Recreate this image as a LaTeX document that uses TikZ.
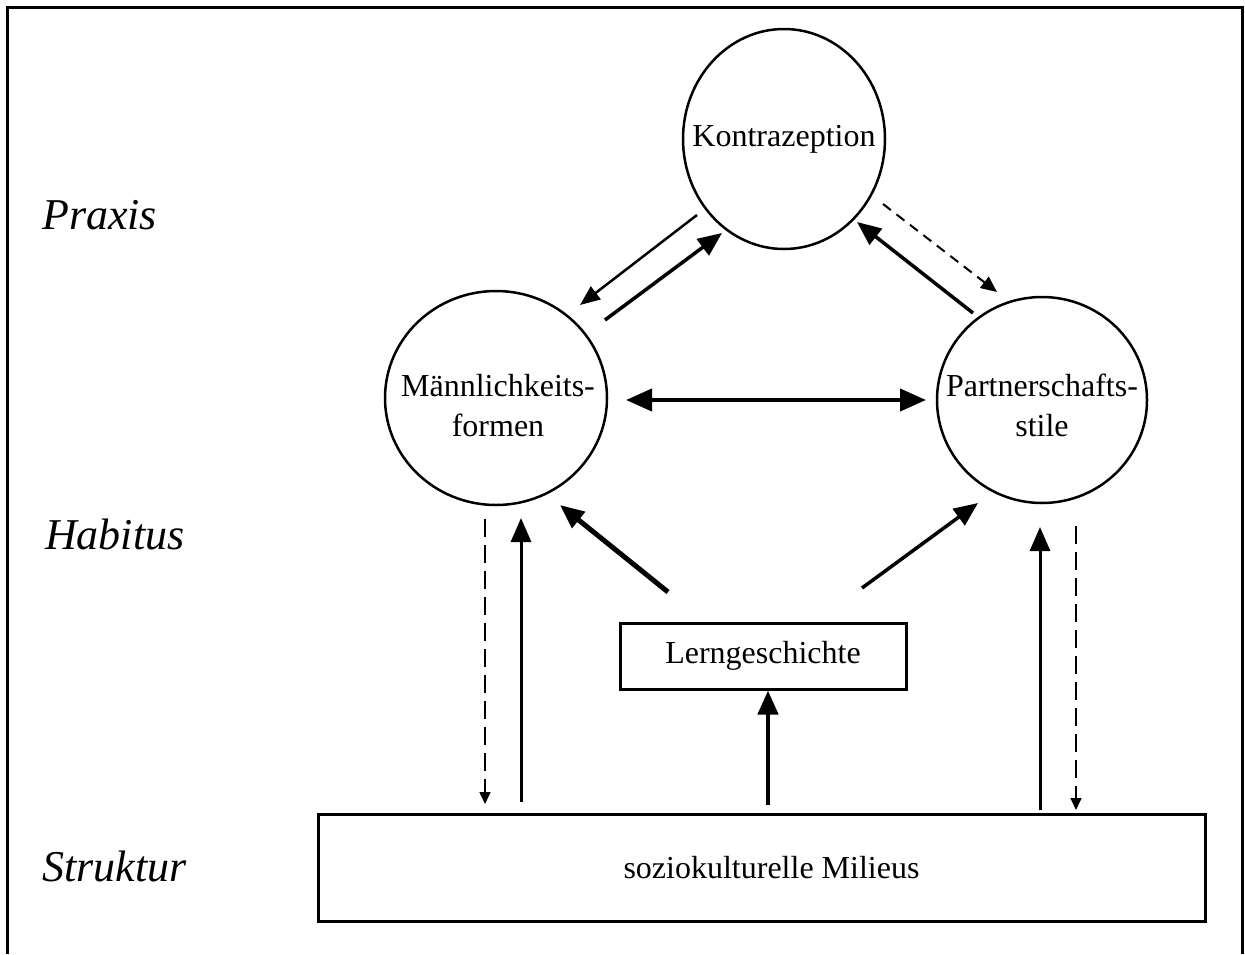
\documentclass[tikz,border=0pt]{standalone}
\usepackage{fontspec}
\setmainfont{Liberation Serif}
\usetikzlibrary{arrows.meta,shapes.geometric}
\begin{document}
\begin{tikzpicture}[x=1pt,y=-1pt,
  sol/.style={line width=3.5pt,-{Triangle[length=24pt,width=20pt]}},
  hat/.style={line width=2.5pt,-{Triangle[length=20pt,width=16pt]}},
  dshd/.style={line width=2pt,dash pattern=on 10pt off 7pt,-{Triangle[length=16pt,width=14pt]}},
  dshv/.style={line width=1.5pt,dash pattern=on 18pt off 8pt,-{Triangle[length=12pt,width=11pt]}},
  ctext/.style={inner sep=0pt,align=center,font=\fontsize{32}{40}\selectfont},
  circline/.style={line width=2.5pt},
  boxn/.style={draw,rectangle,line width=3pt,inner sep=0pt,font=\fontsize{32}{40}\selectfont},
  lab/.style={anchor=base west,inner sep=0pt,font=\fontsize{44}{50}\selectfont\itshape}]
\useasboundingbox (0,0) rectangle (1245,954);
\draw[line width=3pt] (7,954) -- (7,7) -- (1242,7) -- (1242,954);

% level labels
\node[lab] (praxis) at (42,229) {Praxis};
\node[lab] (habitus) at (45,549) {Habitus};
\node[lab] (struktur) at (42,881) {Struktur};

% nodes
\node[ctext] (K) at (784,139) {Kontrazeption};
\draw[circline] (K.center) ellipse [x radius=101, y radius=110];
\node[ctext] (M) at (498,406) {Männlichkeits-\\formen};
\draw[circline] (496,398) ellipse [x radius=111, y radius=107];
\node[ctext] (P) at (1042,405) {Partnerschafts-\\stile};
\draw[circline] (1042,400) ellipse [x radius=105, y radius=103];
\node[boxn,minimum width=286pt,minimum height=66pt] (L) at (763,656) {Lerngeschichte};
\node[boxn,minimum width=887pt,minimum height=107pt] (S) at (761.5,867.5) {\hspace*{20pt}soziokulturelle Milieus};

% connector end points
\coordinate (a1s) at (697,215); \coordinate (a1e) at (580,305);
\coordinate (a2s) at (605,320); \coordinate (a2e) at (722,233);
\coordinate (a3s) at (973,313); \coordinate (a3e) at (857,222);
\coordinate (a4s) at (883,204); \coordinate (a4e) at (997,292);
\coordinate (a5s) at (626,400); \coordinate (a5e) at (926,400);
\coordinate (a6s) at (668,592); \coordinate (a6e) at (560,505);
\coordinate (a7s) at (862,588); \coordinate (a7e) at (978,503);
\coordinate (a8s) at (768,805);
\coordinate (a9s) at (485,519); \coordinate (a9e) at (485,804);
\coordinate (a10s) at (521,802); \coordinate (a10e) at (521,518);
\coordinate (a11s) at (1040,810); \coordinate (a11e) at (1040,527);
\coordinate (a12s) at (1076,526); \coordinate (a12e) at (1076,810);

% connectors
\draw[hat] (a1s) -- (a1e);
\draw[sol] (a2s) -- (a2e);
\draw[sol] (a3s) -- (a3e);
\draw[dshd] (a4s) -- (a4e);
\draw[line width=4pt,{Triangle[length=26pt,width=22pt]}-{Triangle[length=26pt,width=22pt]}] (a5s) -- (a5e);
\draw[sol,line width=5pt] (a6s) -- (a6e);
\draw[sol] (a7s) -- (a7e);
\draw[sol,line width=4.5pt] (a8s) -- (L.south -| a8s);
\draw[dshv] (a9s) -- (a9e);
\draw[sol,line width=3pt] (a10s) -- (a10e);
\draw[sol,line width=3pt] (a11s) -- (a11e);
\draw[dshv] (a12s) -- (a12e);
\end{tikzpicture}
\end{document}
